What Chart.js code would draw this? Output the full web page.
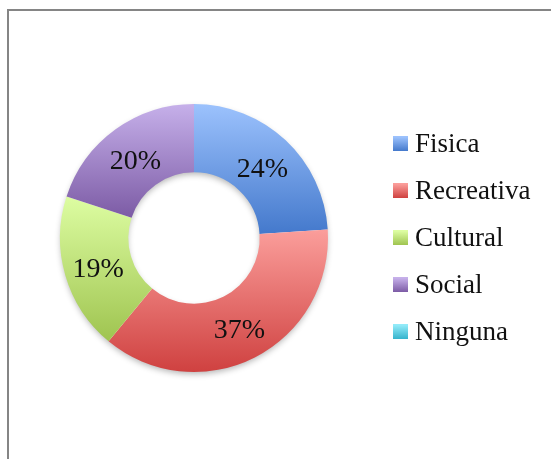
<!DOCTYPE html>
<html>
<head>
<meta charset="utf-8">
<script src="https://cdn.jsdelivr.net/npm/chart.js@4.4.0/dist/chart.umd.min.js"></script>
<style>
    body { margin: 0; background: #fff; }
    #wrap { position: relative; width: 551px; height: 459px; overflow: hidden; }
    #frame { position: absolute; left: 7px; top: 9px; width: 620px; height: 520px; border-top: 2px solid #858585; border-left: 2px solid #858585; }
    canvas { position: absolute; left: 0; top: 0; }
</style>
</head>
<body>
<div id="wrap">
    <div id="frame"></div>
    <canvas id="chart" width="551" height="459"></canvas>
</div>
<script>
// datos del grafico
const labels = ['Fisica', 'Recreativa', 'Cultural', 'Social', 'Ninguna'];
const values = [24, 37, 19, 20, 0];
const topColors = ['#9cc2fd', '#fb9e9b', '#ddfda2', '#c6b0ea', '#93ebf9'];
const bottomColors = ['#4479cc', '#cf4140', '#9fc450', '#7c5ba5', '#35b3cc'];
const midColors = ['#6f9ee6', '#e57170', '#bfe079', '#a086c8', '#66cfe3'];

// limites verticales de un sector
function arcBounds(arc)
{
    let minY = Infinity, maxY = -Infinity;
    const steps = 60;
    for (let s = 0; s <= steps; s++)
    {
        const a = arc.startAngle + (arc.endAngle - arc.startAngle) * s / steps;
        [arc.innerRadius, arc.outerRadius].forEach(r =>
        {
            const y = arc.y + Math.sin(a) * r;
            if (y < minY) minY = y;
            if (y > maxY) maxY = y;
        });
    }
    return { minY, maxY };
}

// sombra + degradado por sector
const gradientPlugin = {
    id: 'ringGradient',
    beforeDatasetsDraw: (chart) =>
    {
        const { ctx } = chart;
        const arcs = chart.getDatasetMeta(0).data;
        if (!arcs.length) return;
        const a0 = arcs[0];

        ctx.save();
        ctx.shadowColor = 'rgba(0,0,0,0.3)';
        ctx.shadowBlur = 6;
        ctx.shadowOffsetY = 3;
        ctx.beginPath();
        ctx.arc(a0.x, a0.y, a0.outerRadius - 1, 0, Math.PI * 2);
        ctx.arc(a0.x, a0.y, a0.innerRadius + 1, 0, Math.PI * 2, true);
        ctx.fillStyle = '#fff';
        ctx.fill('evenodd');
        ctx.restore();

        arcs.forEach((arc, i) =>
        {
            if (arc.endAngle - arc.startAngle <= 0) return;
            const b = arcBounds(arc);
            const g = ctx.createLinearGradient(0, b.minY, 0, b.maxY);
            g.addColorStop(0, topColors[i]);
            g.addColorStop(1, bottomColors[i]);
            arc.options.backgroundColor = g;
        });
    }
};

// porcentajes y leyenda
const labelPlugin = {
    id: 'pctLabels',
    afterDatasetsDraw: (chart) =>
    {
        const { ctx, chartArea } = chart;
        const arcs = chart.getDatasetMeta(0).data;
        const data = chart.data.datasets[0].data;
        const total = data.reduce((a, b) => a + b, 0);

        ctx.save();
        ctx.font = '28px "Liberation Serif"';
        ctx.fillStyle = '#111';
        ctx.textAlign = 'center';
        ctx.textBaseline = 'middle';
        arcs.forEach((arc, i) =>
        {
            if (!data[i]) return;
            const p = arc.getCenterPoint();
            ctx.fillText(Math.round(data[i] / total * 100) + '%', p.x, p.y + 4);
        });

        // leyenda
        const cy = arcs[0].y;
        const boxX = chartArea.right + 65;
        ctx.font = '27px "Liberation Serif"';
        ctx.textAlign = 'left';
        chart.data.labels.forEach((label, i) =>
        {
            const y = cy + (i - 2) * 47;
            const g = ctx.createLinearGradient(0, y - 7, 0, y + 7);
            g.addColorStop(0, topColors[i]);
            g.addColorStop(1, bottomColors[i]);
            ctx.fillStyle = g;
            ctx.fillRect(boxX, y - 8, 15, 15);
            ctx.fillStyle = '#111';
            ctx.fillText(label, boxX + 22, y + 1);
        });
        ctx.restore();
    }
};

new Chart(document.getElementById('chart'), {
    type: 'doughnut',
    data: {
        labels: labels,
        datasets: [{
            data: values,
            backgroundColor: midColors,
            borderWidth: 0
        }]
    },
    options: {
        responsive: false,
        animation: false,
        cutout: '49%',
        layout: { padding: { left: 60, right: 223, top: 104, bottom: 87 } },
        plugins: {
            legend: { display: false },
            tooltip: { enabled: false }
        }
    },
    plugins: [gradientPlugin, labelPlugin]
});
</script>
</body>
</html>
